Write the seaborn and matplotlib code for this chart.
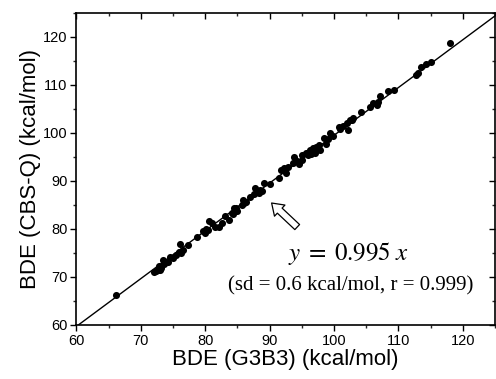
import numpy as np
import pandas as pd
import matplotlib
matplotlib.use("Agg")
import matplotlib.pyplot as plt
from matplotlib.ticker import MultipleLocator
import seaborn as sns

# Bond dissociation energies (kcal/mol)
bde_g3b3 = [66.2, 72.1, 72.4, 72.7, 73.0, 73.2, 72.8, 73.4, 73.6, 74.2, 75.0, 75.5,
            76.0, 76.1, 76.5, 76.3, 77.3, 78.8, 79.7, 79.9, 80.5, 80.6, 81.1, 81.6,
            82.2, 82.6, 83.0, 83.7, 84.1, 84.5, 84.8, 85.0, 85.7, 85.8, 86.3, 87.0,
            87.6, 87.8, 88.1, 88.5, 88.8, 89.1, 90.1, 91.5, 91.7, 92.3, 92.5, 92.9,
            93.7, 93.8, 94.2, 95.0, 95.1, 95.6, 96.0, 96.3, 96.7, 97.0, 97.2, 97.6,
            97.8, 98.7, 98.5, 99.0, 99.4, 99.9, 100.8, 101.4, 102.0, 102.2, 102.5,
            103.0, 104.2, 105.6, 106.1, 106.6, 107.1, 108.4, 109.3, 112.7, 113.1,
            113.5, 114.3, 115.1, 118.05, 72.9, 74.6, 80.2, 84.3, 86.0, 88.3, 94.6,
            96.5, 101.0, 102.8, 106.9]
bde_cbsq = [66.2, 71.1, 71.3, 71.5, 71.4, 71.8, 71.9, 73.5, 72.6, 73.2, 74.0, 74.6,
            75.3, 76.8, 75.6, 75.0, 76.7, 78.4, 79.6, 79.2, 79.8, 81.7, 81.2, 80.5,
            80.5, 81.3, 82.7, 81.9, 83.4, 84.3, 84.3, 83.8, 85.0, 86.0, 85.7, 86.7,
            87.2, 88.5, 87.8, 88.1, 88.0, 89.5, 89.4, 90.6, 92.3, 92.6, 91.7, 93.0,
            93.7, 94.9, 94.2, 94.4, 95.4, 95.8, 95.4, 96.5, 96.8, 95.9, 97.1, 97.5,
            96.5, 97.7, 99.0, 98.7, 99.9, 99.4, 101.2, 101.5, 102.0, 100.6, 102.7,
            103.1, 104.4, 105.3, 106.2, 105.8, 107.6, 108.8, 108.9, 112.1, 112.4,
            113.8, 114.3, 114.7, 118.8, 72.3, 74.1, 79.9, 83.1, 85.4, 87.5, 93.6,
            95.6, 100.9, 102.6, 106.5]

slope = 0.995
fit_range = [60, 125]

df = pd.DataFrame({"g3b3": bde_g3b3, "cbsq": bde_cbsq})
fit = pd.DataFrame({"x": fit_range, "y": [slope * v for v in fit_range]})

sns.set_style("white")
plt.rcParams["font.family"] = ["Liberation Sans", "DejaVu Sans"]
plt.rcParams["mathtext.fontset"] = "stix"
plt.rcParams["text.color"] = "black"
plt.rcParams["axes.labelcolor"] = "black"

fig = plt.figure(figsize=(4.96, 3.79), dpi=100)
ax = fig.add_axes([0.154, 0.1425, 0.844, 0.8235])

sns.lineplot(data=fit, x="x", y="y", ax=ax, color="black", lw=1.0)
sns.scatterplot(data=df, x="g3b3", y="cbsq", ax=ax, color="black", s=26,
                edgecolor="black", linewidth=0, zorder=3)

ax.set_xlim(60, 125)
ax.set_ylim(60, 125)
ax.xaxis.set_major_locator(MultipleLocator(10))
ax.xaxis.set_minor_locator(MultipleLocator(5))
ax.yaxis.set_major_locator(MultipleLocator(10))
ax.yaxis.set_minor_locator(MultipleLocator(5))

for side in ["left", "bottom", "top", "right"]:
    ax.spines[side].set_visible(True)
    ax.spines[side].set_color("black")
    ax.spines[side].set_linewidth(1.2)

ax.tick_params(axis="both", which="major", direction="out", length=4.5, width=1,
               labelsize=10.5, colors="black", pad=2)
ax.tick_params(axis="both", which="minor", direction="out", length=2.5, width=1)
ax.tick_params(which="both", top=True, right=True, bottom=True, left=True)
# inner ticks on the top and right frames
for t in ax.xaxis.get_major_ticks() + ax.xaxis.get_minor_ticks():
    t.tick2line.set_marker(matplotlib.lines.TICKDOWN)
for t in ax.yaxis.get_major_ticks() + ax.yaxis.get_minor_ticks():
    t.tick2line.set_marker(matplotlib.lines.TICKLEFT)

ax.set_xlabel("BDE (G3B3) (kcal/mol)", fontsize=16, labelpad=1, color="black")
ax.set_ylabel("BDE (CBS-Q) (kcal/mol)", fontsize=16, labelpad=1, color="black")

ax.annotate("", xy=(90.0, 85.8), xytext=(94.6, 80.0),
            arrowprops=dict(arrowstyle="simple,head_length=0.8,head_width=1.1,tail_width=0.5",
                            fc="white", ec="black", lw=0.9))

ax.text(102.2, 74.8, r"$y\;=\;0.995\;x$", fontsize=18, ha="center", va="center",
        color="black")
ax.text(102.6, 68.2, "(sd = 0.6 kcal/mol, r = 0.999)", fontsize=15,
        family=["Liberation Serif", "DejaVu Serif"], ha="center", va="center",
        color="black")

fig.savefig("out.png", dpi=100)
